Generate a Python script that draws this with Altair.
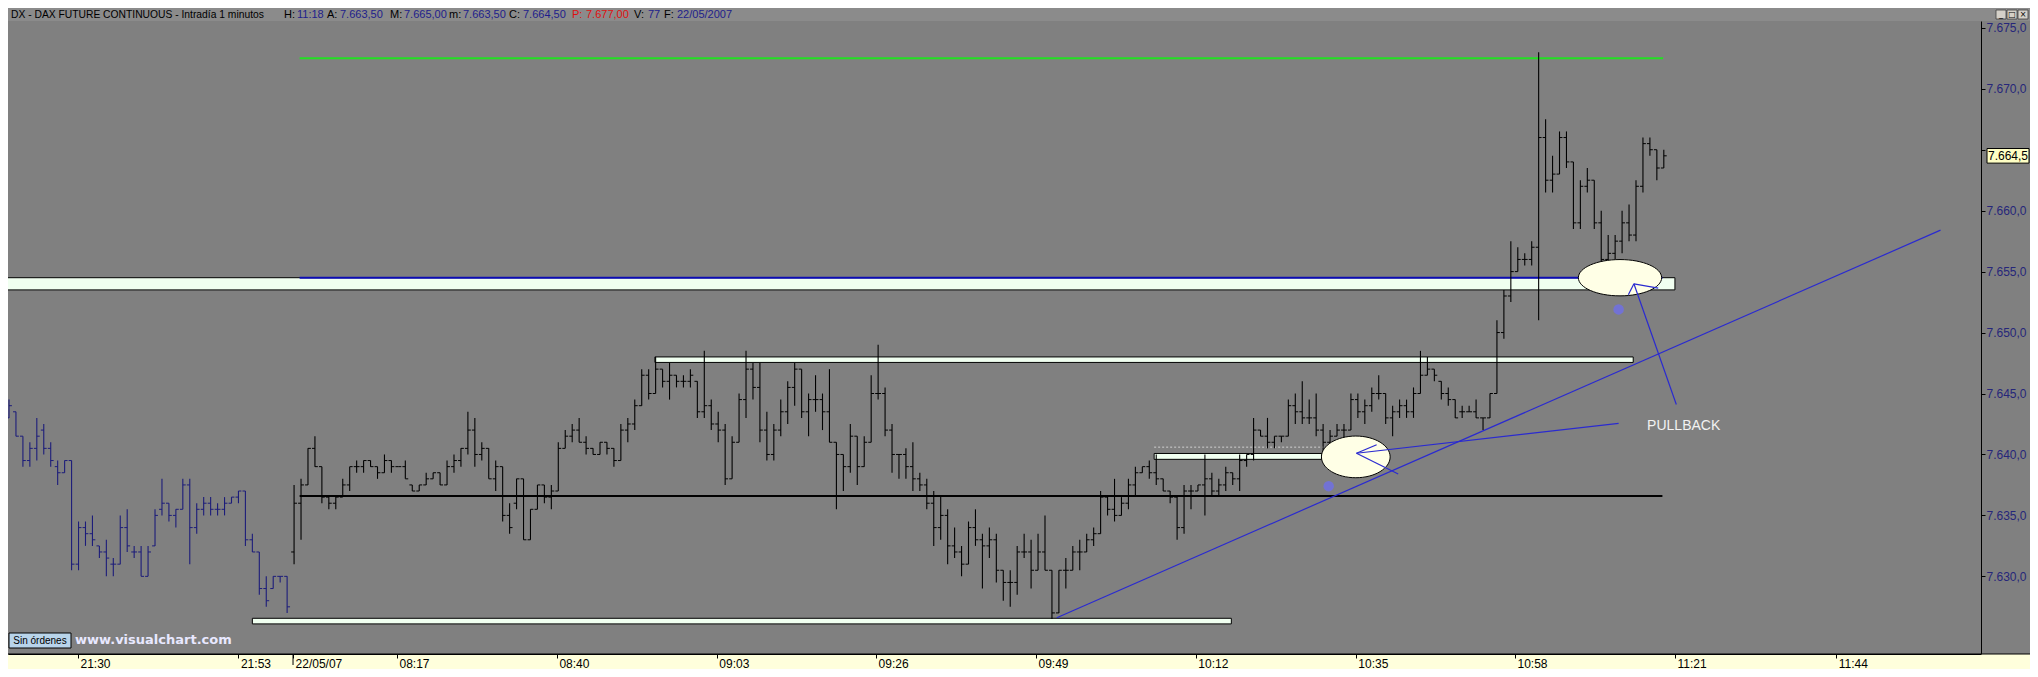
import altair as alt
import pandas as pd

# ---------------- OHLC data (1-minute bars, index 0..238) ----------------
opens = [
    7643.0, 7643.5, 7641.5, 7639.5, 7640.5, 7642.0, 7640.5, 7639.0, 7638.5, 7639.5,
    7631.0, 7634.0, 7633.5, 7632.5, 7632.0, 7631.0, 7631.0, 7634.0, 7632.0, 7632.0,
    7630.0, 7632.5, 7635.5, 7636.0, 7635.0, 7635.5, 7637.5, 7634.0, 7635.5, 7636.0,
    7635.5, 7635.5, 7636.0, 7636.5, 7637.0, 7633.0, 7632.0, 7629.0, 7629.0, 7630.0,
    7630.0,
    7632.0, 7636.0, 7637.5, 7640.5, 7639.0, 7636.5, 7636.0, 7636.5, 7637.5, 7639.0,
    7639.0, 7639.5, 7639.0, 7638.5, 7639.5, 7639.0, 7639.0, 7637.5, 7637.0, 7637.5,
    7638.0, 7638.5, 7637.5, 7639.0, 7639.5, 7640.5, 7642.0, 7640.0, 7640.5, 7638.0,
    7639.0, 7635.0, 7636.0, 7638.0, 7633.0, 7635.5, 7637.5, 7636.5, 7637.0, 7640.5,
    7641.5, 7642.0, 7641.0, 7640.5, 7640.0, 7641.0, 7640.5, 7639.5, 7642.0, 7642.5,
    7644.0, 7646.5, 7645.0, 7647.0, 7646.0, 7646.5, 7646.0, 7646.0, 7646.0, 7643.5,
    7644.0, 7642.5, 7642.0, 7638.0, 7641.0, 7644.5, 7647.0, 7645.5, 7642.0, 7640.0,
    7642.0, 7643.5, 7645.5, 7647.0, 7643.5, 7644.5, 7644.5, 7643.5, 7641.0, 7640.0,
    7639.0, 7641.5, 7639.0, 7641.0, 7645.0, 7645.0, 7642.0, 7640.0, 7640.0, 7639.0,
    7638.0, 7637.5, 7636.0, 7634.0, 7635.0, 7632.5, 7632.0, 7631.0, 7634.0, 7633.0,
    7632.5, 7633.0, 7630.5, 7629.5, 7629.5, 7632.0, 7632.0, 7630.5, 7632.0, 7630.5,
    7627.0, 7630.5, 7630.5, 7632.0, 7632.0, 7633.0, 7633.5, 7636.5, 7635.5, 7635.0,
    7636.0, 7637.5, 7638.5, 7639.0, 7638.5, 7638.0, 7637.0, 7636.5, 7634.0, 7637.0,
    7637.0, 7637.5, 7638.0, 7637.0, 7637.5, 7638.5, 7638.0, 7639.5, 7640.0, 7642.0,
    7641.5, 7641.0, 7641.5, 7641.5, 7644.0, 7643.5, 7643.0, 7643.0, 7642.0, 7641.0,
    7641.5, 7642.0, 7642.0, 7644.5, 7643.5, 7644.0, 7645.0, 7645.0, 7643.0, 7643.5,
    7644.0, 7643.5, 7645.0, 7646.5, 7647.0, 7646.0, 7645.0, 7644.5, 7643.5, 7643.5,
    7643.5, 7643.0, 7643.0, 7645.0, 7650.0, 7653.0, 7655.0, 7656.0, 7656.0, 7657.0,
    7666.0, 7662.5, 7663.0, 7666.0, 7664.0, 7659.0, 7662.0, 7662.5, 7659.0, 7656.0,
    7656.5, 7657.5, 7659.0, 7658.0, 7662.0, 7665.5, 7665.0, 7663.5,
]
highs = [
    7644.5, 7643.5, 7641.5, 7641.0, 7643.0, 7642.5, 7641.0, 7639.5, 7639.5, 7639.5,
    7634.5, 7634.5, 7635.0, 7632.5, 7633.0, 7631.5, 7635.0, 7635.5, 7632.5, 7632.5,
    7632.5, 7635.5, 7638.0, 7636.0, 7635.5, 7638.0, 7638.0, 7636.0, 7636.5, 7636.5,
    7636.0, 7636.5, 7636.5, 7637.0, 7637.0, 7633.5, 7632.0, 7630.0, 7630.0, 7630.0,
    7630.0,
    7637.5, 7638.0, 7640.5, 7641.5, 7639.0, 7636.5, 7636.5, 7638.0, 7639.0, 7639.5,
    7639.5, 7639.5, 7639.0, 7640.0, 7639.5, 7639.0, 7639.5, 7637.5, 7637.5, 7638.5,
    7638.5, 7638.5, 7639.5, 7640.0, 7640.5, 7643.5, 7643.0, 7641.0, 7640.5, 7639.5,
    7639.0, 7636.0, 7638.0, 7638.0, 7635.5, 7637.5, 7637.5, 7637.5, 7641.0, 7642.0,
    7642.5, 7643.0, 7641.5, 7640.5, 7641.0, 7641.0, 7640.5, 7642.5, 7643.0, 7644.5,
    7647.0, 7647.0, 7648.0, 7647.0, 7647.5, 7646.5, 7646.5, 7647.0, 7646.0, 7648.5,
    7644.5, 7643.5, 7642.5, 7641.5, 7645.0, 7648.5, 7647.5, 7647.5, 7643.5, 7642.5,
    7644.5, 7646.0, 7647.5, 7647.0, 7645.0, 7646.5, 7645.0, 7647.0, 7641.0, 7640.0,
    7642.5, 7641.5, 7641.5, 7646.5, 7649.0, 7645.5, 7642.5, 7640.0, 7640.5, 7641.0,
    7638.5, 7638.0, 7637.0, 7636.5, 7635.5, 7634.0, 7632.5, 7634.5, 7635.5, 7633.5,
    7634.0, 7633.5, 7630.5, 7630.5, 7632.5, 7633.5, 7633.0, 7633.5, 7635.0, 7630.5,
    7630.5, 7631.5, 7632.5, 7633.0, 7633.5, 7634.0, 7637.0, 7636.5, 7638.0, 7636.5,
    7638.0, 7639.0, 7639.0, 7639.5, 7640.0, 7638.0, 7637.0, 7636.5, 7637.5, 7637.5,
    7637.5, 7640.0, 7638.5, 7638.0, 7639.0, 7638.5, 7640.0, 7640.0, 7643.0, 7642.0,
    7643.0, 7641.5, 7641.5, 7644.5, 7645.0, 7646.0, 7644.5, 7645.0, 7642.5, 7642.0,
    7642.5, 7642.5, 7645.0, 7645.0, 7644.5, 7645.5, 7646.5, 7645.0, 7644.0, 7644.5,
    7644.5, 7645.5, 7648.5, 7648.0, 7647.0, 7646.0, 7645.5, 7644.5, 7644.0, 7644.0,
    7644.5, 7643.0, 7645.0, 7651.0, 7653.5, 7657.5, 7657.0, 7656.5, 7657.5, 7673.0,
    7667.5, 7664.5, 7666.5, 7666.5, 7664.0, 7662.5, 7663.5, 7662.5, 7660.0, 7658.0,
    7658.0, 7660.0, 7660.5, 7662.5, 7666.0, 7666.0, 7665.0, 7665.0,
]
lows = [
    7643.0, 7641.5, 7639.0, 7639.0, 7639.5, 7640.0, 7639.0, 7637.5, 7638.5, 7630.5,
    7630.5, 7632.5, 7632.5, 7631.5, 7630.0, 7630.0, 7631.0, 7632.0, 7631.5, 7630.0,
    7630.0, 7632.5, 7635.0, 7634.5, 7634.0, 7635.5, 7631.0, 7633.5, 7635.0, 7635.0,
    7635.0, 7635.0, 7636.0, 7636.0, 7632.5, 7632.0, 7628.5, 7627.5, 7629.0, 7629.5,
    7627.0,
    7631.0, 7633.0, 7637.5, 7639.0, 7636.0, 7635.5, 7635.5, 7636.5, 7637.0, 7638.5,
    7638.5, 7639.0, 7638.0, 7638.5, 7638.5, 7639.0, 7638.0, 7637.0, 7637.0, 7637.5,
    7638.0, 7637.5, 7637.5, 7638.5, 7639.0, 7640.0, 7639.0, 7639.5, 7638.0, 7637.0,
    7634.5, 7633.5, 7635.5, 7633.0, 7633.0, 7635.5, 7636.0, 7635.5, 7637.0, 7640.5,
    7641.0, 7641.0, 7640.0, 7640.0, 7640.0, 7640.0, 7639.0, 7639.5, 7641.0, 7642.0,
    7644.0, 7644.5, 7645.0, 7645.5, 7644.5, 7645.5, 7645.5, 7645.5, 7643.0, 7643.0,
    7642.0, 7641.0, 7637.5, 7638.0, 7641.0, 7643.0, 7644.5, 7641.0, 7639.5, 7639.5,
    7641.5, 7642.5, 7644.0, 7643.0, 7641.5, 7643.5, 7642.0, 7641.0, 7635.5, 7637.0,
    7638.5, 7637.5, 7639.0, 7641.0, 7644.5, 7641.5, 7638.5, 7638.0, 7638.0, 7637.0,
    7637.0, 7635.5, 7632.5, 7633.0, 7631.0, 7631.5, 7630.0, 7631.0, 7632.5, 7629.0,
    7631.5, 7629.5, 7628.0, 7627.5, 7628.5, 7631.5, 7629.0, 7630.5, 7630.5, 7626.5,
    7627.0, 7629.0, 7630.5, 7630.5, 7632.0, 7632.5, 7633.5, 7635.0, 7634.5, 7635.0,
    7635.5, 7636.5, 7638.5, 7638.0, 7637.5, 7637.0, 7636.0, 7633.0, 7633.5, 7635.5,
    7637.0, 7635.0, 7636.5, 7636.5, 7637.0, 7637.5, 7637.0, 7639.0, 7639.5, 7641.5,
    7640.5, 7640.5, 7641.0, 7641.5, 7642.5, 7642.5, 7642.5, 7641.5, 7639.5, 7640.0,
    7641.5, 7640.5, 7642.0, 7643.0, 7642.5, 7643.5, 7644.5, 7642.5, 7641.5, 7643.0,
    7643.0, 7643.0, 7645.0, 7646.5, 7646.0, 7644.5, 7644.0, 7643.0, 7643.0, 7643.5,
    7643.0, 7642.0, 7643.0, 7645.0, 7649.5, 7652.5, 7655.0, 7655.5, 7655.5, 7651.0,
    7661.5, 7661.5, 7663.0, 7663.5, 7658.5, 7658.5, 7661.5, 7658.5, 7654.5, 7655.5,
    7655.5, 7656.5, 7657.5, 7657.5, 7661.5, 7664.5, 7662.5, 7663.5,
]
closes = [
    7644.0, 7641.5, 7639.5, 7640.5, 7641.5, 7640.5, 7639.5, 7638.5, 7639.5, 7631.0,
    7634.0, 7633.5, 7633.0, 7632.0, 7631.5, 7631.0, 7634.0, 7632.5, 7632.0, 7630.0,
    7632.0, 7635.0, 7636.0, 7635.0, 7635.5, 7637.5, 7634.0, 7635.5, 7636.0, 7635.5,
    7635.5, 7636.0, 7636.5, 7637.0, 7633.0, 7632.0, 7629.0, 7628.0, 7630.0, 7630.0,
    7627.5,
    7636.0, 7637.5, 7640.5, 7639.0, 7636.5, 7636.0, 7636.5, 7637.5, 7639.0, 7639.0,
    7639.5, 7639.0, 7638.5, 7639.5, 7639.0, 7639.0, 7638.0, 7637.0, 7637.5, 7638.0,
    7638.5, 7637.5, 7639.0, 7639.5, 7640.5, 7642.0, 7640.0, 7640.5, 7638.0, 7639.0,
    7635.0, 7634.0, 7638.0, 7633.0, 7635.5, 7637.5, 7636.5, 7637.0, 7640.5, 7641.5,
    7642.0, 7641.0, 7640.5, 7640.0, 7641.0, 7640.5, 7639.5, 7642.0, 7642.5, 7644.0,
    7646.5, 7645.0, 7647.0, 7646.0, 7646.5, 7646.0, 7646.0, 7646.5, 7643.5, 7644.0,
    7642.5, 7642.0, 7638.0, 7641.0, 7644.5, 7647.0, 7645.5, 7642.0, 7640.0, 7642.0,
    7643.5, 7645.5, 7647.0, 7643.5, 7644.5, 7644.5, 7643.5, 7641.0, 7640.0, 7639.0,
    7641.5, 7639.0, 7641.0, 7645.0, 7645.0, 7642.0, 7640.0, 7640.0, 7639.0, 7638.0,
    7637.5, 7636.0, 7634.0, 7635.0, 7632.5, 7632.0, 7631.0, 7634.0, 7633.0, 7632.5,
    7633.0, 7630.5, 7629.5, 7629.5, 7632.0, 7632.0, 7630.5, 7632.0, 7630.5, 7627.0,
    7630.5, 7630.5, 7632.0, 7632.0, 7633.0, 7633.5, 7636.5, 7635.5, 7635.0, 7636.0,
    7637.5, 7638.5, 7639.0, 7638.5, 7638.0, 7637.0, 7636.5, 7634.0, 7637.0, 7637.0,
    7637.5, 7638.0, 7637.0, 7637.5, 7638.5, 7638.0, 7639.5, 7640.0, 7642.0, 7641.5,
    7641.0, 7641.5, 7641.5, 7644.0, 7643.5, 7643.0, 7643.0, 7642.0, 7641.0, 7641.5,
    7642.0, 7642.0, 7644.5, 7643.5, 7644.0, 7645.0, 7645.0, 7643.0, 7643.5, 7644.0,
    7643.5, 7645.0, 7646.5, 7647.0, 7646.5, 7645.0, 7644.5, 7643.0, 7643.5, 7643.5,
    7643.0, 7643.0, 7645.0, 7650.0, 7653.0, 7655.0, 7656.0, 7656.0, 7657.0, 7666.0,
    7662.5, 7663.0, 7666.0, 7664.0, 7659.0, 7662.0, 7662.5, 7659.0, 7656.0, 7656.5,
    7657.5, 7659.0, 7658.0, 7662.0, 7665.5, 7665.0, 7663.5, 7664.5,
]
PREV_SESSION_BARS = 41  # bars 0..40 belong to the 21/05 evening session

# ---------------- axis ticks ----------------
tick_positions = [9.92, 33.0, 40.85, 55.8, 78.8, 101.8, 124.7, 147.7, 170.7, 193.7, 216.6, 239.6, 262.8]
tick_labels = ["21:30", "21:53", "22/05/07", "08:17", "08:40", "09:03", "09:26", "09:49",
               "10:12", "10:35", "10:58", "11:21", "11:44"]
day_break = 40.85
price_ticks = [7630, 7635, 7640, 7645, 7650, 7655, 7660, 7665, 7670, 7675]

# ---------------- drawn annotations ----------------
level_names = ["green", "blue", "black"]
level_prices = [7672.5, 7654.5, 7636.6]
level_start = [41.8, 41.8, 41.8]
level_end = [237.9, 237.8, 237.8]

zone_start = [-0.7, 92.9, 164.7, 35.0]
zone_end = [239.6, 233.6, 188.8, 175.8]
zone_low = [7653.5, 7647.55, 7639.6, 7626.1]
zone_high = [7654.5, 7648.0, 7640.08, 7626.56]

dotted_start = [164.7]
dotted_end = [193.0]
dotted_price = [7640.6]

trend_x = [150.7]
trend_x2 = [277.8]
trend_y = [7626.6]
trend_y2 = [7658.4]

ptr_x = [193.8, 193.8, 193.8, 233.7, 233.7, 233.7]
ptr_y = [7640.1, 7640.1, 7640.1, 7654.0, 7654.0, 7654.0]
ptr_x2 = [231.5, 196.7, 199.8, 239.8, 232.9, 237.2]
ptr_y2 = [7642.55, 7640.8, 7638.4, 7644.1, 7653.1, 7653.65]

ellipse_x = [193.7, 231.7]
ellipse_y = [7639.8, 7654.5]

marker_x = [189.8, 231.5]
marker_y = [7637.4, 7651.9]

note_x = [235.6]
note_y = [7642.3]
note_text = ["PULLBACK"]

last_price = 7664.5

title_parts = [
    ("DX - DAX FUTURE CONTINUOUS - Intradía 1 minutos", "label"),
    ("H:", "label"), ("11:18", "value"),
    ("A:", "label"), ("7.663,50", "value"),
    ("M:", "label"), ("7.665,00", "value"),
    ("m:", "label"), ("7.663,50", "value"),
    ("C:", "label"), ("7.664,50", "value"),
    ("P:", "alert"), ("7.677,00", "alert"),
    ("V:", "label"), ("77", "value"),
    ("F:", "label"), ("22/05/2007", "value"),
]

# ---------------- layout ----------------
PLOT_W, PLOT_H = 1973, 633
TOP_PAD = 13
TOTAL_W = 2022
X_DOMAIN = [-0.144, 283.62]
Y_DOMAIN = [7623.63, 7675.56]

xscale = alt.Scale(domain=X_DOMAIN, nice=False, zero=False)
yscale = alt.Scale(domain=Y_DOMAIN, nice=False, zero=False)

label_expr_x = "''"
for pos, lab in reversed(list(zip(tick_positions, tick_labels))):
    label_expr_x = f"abs(datum.value - {pos}) < 0.01 ? '{lab}' : ({label_expr_x})"

x_axis = alt.Axis(values=tick_positions, labelExpr=label_expr_x, title=None, grid=False,
                  domainColor="#000000", domainWidth=1, tickColor="#000000", tickSize=4,
                  tickWidth=1, labelColor="#000000", labelFont="Liberation Sans",
                  labelFontSize=12, labelAlign="left", labelBaseline="top", labelPadding=0,
                  labelOffset=2, labelFlush=False, labelOverlap=False, zindex=1)
# the 7.665 label sits under the last-price box, as in the reference
y_axis = alt.Axis(orient="right", values=price_ticks,
                  labelExpr=f"datum.value == {last_price + 0.5} ? '' : "
                            "'7.' + format(datum.value - 7000, 'd') + ',0'",
                  title=None, grid=False, domainColor="#000000", domainWidth=1,
                  tickColor="#000000", tickSize=4, labelColor="#26267a",
                  labelFont="Liberation Sans", labelFontSize=12, labelPadding=1,
                  labelFlush=False, labelOverlap=False)


def X(f):
    return alt.X(f, type="quantitative", scale=xscale, axis=x_axis)


def Y(f):
    return alt.Y(f, type="quantitative", scale=yscale, axis=y_axis)


one = pd.DataFrame({"k": [0]})

N = len(highs)
bars = pd.DataFrame({
    "i": list(range(N)), "open": opens, "high": highs, "low": lows, "close": closes,
})
session_colors = {"prev": "#1c1c7a", "today": "#000000"}
session_filters = {"prev": f"datum.i < {PREV_SESSION_BARS}", "today": f"datum.i >= {PREV_SESSION_BARS}"}

layers = []

# title bar & bottom axis band
layers.append(alt.Chart(one).mark_rect(color="#8b8b8b").encode(
    x=alt.value(0), x2=alt.value(TOTAL_W), y=alt.value(-TOP_PAD), y2=alt.value(0)))
layers.append(alt.Chart(one).mark_rect(color="#FFFFDC").encode(
    x=alt.value(0), x2=alt.value(TOTAL_W), y=alt.value(PLOT_H), y2=alt.value(PLOT_H + 15)))
layers.append(alt.Chart(one).mark_rule(color="#000000", strokeWidth=1).encode(
    x=alt.value(0), x2=alt.value(TOTAL_W), y=alt.value(PLOT_H)))
layers.append(alt.Chart(pd.DataFrame({"x": [day_break]})).mark_rule(color="#000000").encode(
    x=X("x"), y=alt.value(PLOT_H), y2=alt.value(PLOT_H + 11)))

# zones
zones = pd.DataFrame({"x0": zone_start, "x1": zone_end, "lo": zone_low, "hi": zone_high})
layers.append(alt.Chart(zones).mark_rect(fill="#F0FFF0", stroke="#000000", strokeWidth=1).encode(
    x=X("x0"), x2="x1", y=Y("lo"), y2="hi"))

# horizontal levels (one layer per colour)
levels = pd.DataFrame({"name": level_names, "p": level_prices, "x0": level_start, "x1": level_end})
level_colors = {"green": "#22e022", "blue": "#0c0cb4", "black": "#000000"}
for name in level_names:
    layers.append(alt.Chart(levels).transform_filter(f"datum.name == '{name}'")
                  .mark_rule(strokeWidth=2, color=level_colors[name]).encode(
        x=X("x0"), x2="x1", y=Y("p")))

dotted = pd.DataFrame({"x0": dotted_start, "x1": dotted_end, "p": dotted_price})
layers.append(alt.Chart(dotted).mark_rule(color="#d0d0d0", strokeDash=[2, 2], strokeWidth=1).encode(
    x=X("x0"), x2="x1", y=Y("p")))

# trend line
trend = pd.DataFrame({"x": trend_x, "x2": trend_x2, "y": trend_y, "y2": trend_y2})
layers.append(alt.Chart(trend).mark_rule(color="#2a2ad0", strokeWidth=1.2).encode(
    x=X("x"), x2="x2", y=Y("y"), y2="y2"))

# OHLC bars
for sess in ["prev", "today"]:
    base = alt.Chart(bars).transform_filter(session_filters[sess])
    col = session_colors[sess]
    layers.append(base.mark_rule(strokeWidth=1.1, color=col).encode(x=X("i"), y=Y("low"), y2="high"))
    layers.append(base.transform_calculate(xl="datum.i - 0.42").mark_rule(strokeWidth=1, color=col).encode(
        x=X("xl"), x2="i:Q", y=Y("open")))
    layers.append(base.transform_calculate(xr="datum.i + 0.42").mark_rule(strokeWidth=1, color=col).encode(
        x=X("i"), x2="xr:Q", y=Y("close")))


def ellipse_path(ratio):
    k = 0.5523
    r = ratio
    kr = k * r
    return (f"M -1 0 C -1 {-kr:.3f} {-k} {-r:.3f} 0 {-r:.3f} "
            f"C {k} {-r:.3f} 1 {-kr:.3f} 1 0 "
            f"C 1 {kr:.3f} {k} {r:.3f} 0 {r:.3f} "
            f"C {-k} {r:.3f} -1 {kr:.3f} -1 0 Z")


ell1 = pd.DataFrame({"x": ellipse_x[:1], "y": ellipse_y[:1]})
ell2 = pd.DataFrame({"x": ellipse_x[1:], "y": ellipse_y[1:]})
layers.append(alt.Chart(ell1).mark_point(shape=ellipse_path(0.607), size=4720, filled=True,
                                         fill="#FFFFE6", stroke="#000000", strokeWidth=1,
                                         opacity=1).encode(x=X("x"), y=Y("y")))
layers.append(alt.Chart(ell2).mark_point(shape=ellipse_path(0.436), size=6940, filled=True,
                                         fill="#FFFFE6", stroke="#000000", strokeWidth=1,
                                         opacity=1).encode(x=X("x"), y=Y("y")))

# pointers
ptr = pd.DataFrame({"x": ptr_x, "y": ptr_y, "x2": ptr_x2, "y2": ptr_y2})
layers.append(alt.Chart(ptr).mark_rule(color="#2a2ad0", strokeWidth=1.2).encode(
    x=X("x"), x2="x2", y=Y("y"), y2="y2"))

# markers (soft blue blobs)
mk = pd.DataFrame({"x": marker_x, "y": marker_y})
layers.append(alt.Chart(mk).mark_point(shape="circle", filled=True, size=110, color="#6e6ef0",
                                       opacity=0.75).encode(x=X("x"), y=Y("y")))

# note text
nt = pd.DataFrame({"x": note_x, "y": note_y, "t": note_text})
layers.append(alt.Chart(nt).mark_text(align="left", baseline="middle", fontSize=14,
                                      font="Liberation Sans", color="#f2f2f2").encode(
    x=X("x"), y=Y("y"), text="t:N"))

# status box & watermark
layers.append(alt.Chart(one).mark_rect(fill="#b8d4ea", stroke="#000000", strokeWidth=1).encode(
    x=alt.value(1), x2=alt.value(63), y=alt.value(612), y2=alt.value(627)))
layers.append(alt.Chart(one).mark_text(align="center", baseline="middle", fontSize=10,
                                       font="Liberation Sans", color="#000000",
                                       text="Sin órdenes").encode(
    x=alt.value(32), y=alt.value(620)))
layers.append(alt.Chart(one).mark_text(align="left", baseline="middle", fontSize=13,
                                       font="DejaVu Sans", fontWeight="bold", color="#e8e8ff",
                                       text="www.visualchart.com").encode(
    x=alt.value(67), y=alt.value(619)))

# last price box on the right axis
lp_text = "7." + f"{last_price - 7000:.1f}".replace(".", ",")
lp = pd.DataFrame({"p": [last_price], "t": [lp_text]})
layers.append(alt.Chart(lp).transform_calculate(top="datum.p + 0.6", bot="datum.p - 0.6")
              .mark_rect(fill="#FFFFC4", stroke="#000000", strokeWidth=1).encode(
    x=alt.value(1979), x2=alt.value(2021), y=Y("top"), y2="bot:Q"))
layers.append(alt.Chart(lp).mark_text(align="center", baseline="middle", fontSize=12,
                                      font="Liberation Sans", color="#000000").encode(
    x=alt.value(2000), y=Y("p"), text="t:N"))

# title bar text
title_x = [3, 276, 289, 319, 332, 382, 396, 441, 455, 501, 515, 564, 578, 626, 640, 656, 669]
title_sizes = [10.3] + [11] * (len(title_parts) - 1)
title_colors = {"label": "#000000", "value": "#1e1e8c", "alert": "#e01010"}
for (txt, kind), px, fs in zip(title_parts, title_x, title_sizes):
    layers.append(alt.Chart(one).mark_text(align="left", baseline="middle", fontSize=fs,
                                           font="Liberation Sans", color=title_colors[kind],
                                           text=txt).encode(x=alt.value(px), y=alt.value(-6.5)))

# window buttons
for bx, glyph in zip([1988, 1999, 2010], ["_", "□", "×"]):
    layers.append(alt.Chart(one).mark_rect(fill="#d4d0c8", stroke="#404040", strokeWidth=0.8).encode(
        x=alt.value(bx), x2=alt.value(bx + 10), y=alt.value(-11), y2=alt.value(-2)))
    layers.append(alt.Chart(one).mark_text(align="center", baseline="middle", fontSize=8,
                                           font="DejaVu Sans", color="#000000", text=glyph).encode(
        x=alt.value(bx + 5), y=alt.value(-6.5)))

chart = alt.layer(*layers).properties(
    width=PLOT_W, height=PLOT_H,
    padding={"left": 0, "top": TOP_PAD, "right": 49, "bottom": 15},
    autosize=alt.AutoSizeParams(type="none"),
    background="#808080",
).configure_view(strokeWidth=0)

chart.save("out.html", embed_options={"renderer": "svg", "actions": False})
